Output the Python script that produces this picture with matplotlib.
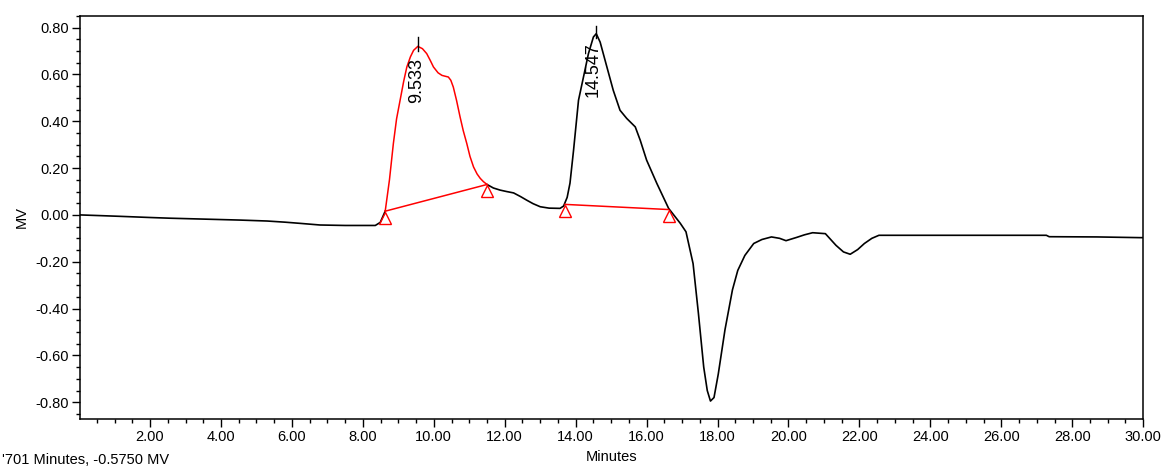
import matplotlib
matplotlib.use("Agg")
import matplotlib.pyplot as plt
import matplotlib.transforms as mtransforms
from matplotlib.ticker import MultipleLocator, FormatStrFormatter

plt.rcParams["font.family"] = ["Liberation Sans", "DejaVu Sans"]
plt.rcParams["axes.unicode_minus"] = False

# Detector trace (minutes, MV)
time_min = [0.03, 0.6, 1.15, 2.0, 2.56, 3.55, 4.54, 5.3, 5.81, 6.23, 6.79, 7.5,
            8.35, 8.49, 8.63, 8.75, 8.86, 8.95, 9.05, 9.15, 9.24, 9.34, 9.43,
            9.55, 9.68, 9.80, 9.90, 9.99, 10.12, 10.23, 10.33, 10.41, 10.48,
            10.55, 10.64, 10.74, 10.83, 10.93, 11.02, 11.12, 11.22, 11.31,
            11.40, 11.50, 11.68, 11.87, 12.05, 12.25, 12.45, 12.62, 12.80,
            13.0, 13.25, 13.56, 13.66, 13.76, 13.84, 13.94, 14.08, 14.22,
            14.36, 14.50, 14.58, 14.69, 14.88, 15.06, 15.25, 15.44, 15.68,
            15.82, 16.0, 16.29, 16.62, 16.95, 17.11, 17.31, 17.46, 17.61,
            17.71, 17.80, 17.90, 18.02, 18.21, 18.42, 18.57, 18.77, 19.02,
            19.25, 19.52, 19.75, 19.93, 20.23, 20.45, 20.68, 21.04, 21.34,
            21.55, 21.74, 21.95, 22.14, 22.35, 22.55, 25.0, 27.27, 27.35,
            28.7, 29.9, 30.0]
signal_mv = [0.000, -0.003, -0.006, -0.011, -0.014, -0.018, -0.022, -0.026,
             -0.031, -0.036, -0.043, -0.045, -0.045, -0.032, 0.016, 0.15,
             0.305, 0.41, 0.49, 0.57, 0.632, 0.675, 0.703, 0.72, 0.71, 0.689,
             0.66, 0.632, 0.607, 0.596, 0.592, 0.589, 0.575, 0.546, 0.49,
             0.419, 0.36, 0.305, 0.25, 0.205, 0.175, 0.156, 0.142, 0.130,
             0.115, 0.106, 0.100, 0.094, 0.078, 0.063, 0.048, 0.035, 0.029,
             0.028, 0.038, 0.075, 0.136, 0.276, 0.49, 0.589, 0.689, 0.76,
             0.774, 0.738, 0.632, 0.532, 0.447, 0.412, 0.376, 0.319, 0.234,
             0.134, 0.028, -0.036, -0.072, -0.208, -0.42, -0.65, -0.75,
             -0.795, -0.78, -0.68, -0.49, -0.32, -0.237, -0.173, -0.122,
             -0.105, -0.094, -0.100, -0.110, -0.096, -0.085, -0.076, -0.080,
             -0.13, -0.158, -0.168, -0.148, -0.122, -0.100, -0.087, -0.087,
             -0.087, -0.093, -0.094, -0.097, -0.097]

# Integration baselines (start/end points)
base1_t = [8.63, 11.50]
base1_y = [0.016, 0.130]
base2_t = [13.70, 16.62]
base2_y = [0.045, 0.023]

# Peak annotations
peak_t = [9.55, 14.58]
peak_y = [0.72, 0.774]
peak_labels = ["9.533", "14.547"]

x_ticks = [2, 4, 6, 8, 10, 12, 14, 16, 18, 20, 22, 24, 26, 28, 30]

fig = plt.figure(figsize=(11.62, 4.68), dpi=100)
ax = fig.add_axes([0.069, 0.105, 0.9148, 0.861])

pairs = list(zip(time_min, signal_mv))
pre = [p for p in pairs if p[0] <= base1_t[0]]
peak1 = [p for p in pairs if base1_t[0] <= p[0] <= base1_t[1]]
post = [p for p in pairs if p[0] >= base1_t[1]]
for part in (pre, post):
    ax.plot([p[0] for p in part], [p[1] for p in part], color="black", lw=1.2)
ax.plot([p[0] for p in peak1], [p[1] for p in peak1], color="red", lw=1.1)

# baselines with triangle markers hanging below the end points
tri = ax.transData + mtransforms.ScaledTranslation(0, -5 / 72, fig.dpi_scale_trans)
for bt, by in [(base1_t, base1_y), (base2_t, base2_y)]:
    ax.plot(bt, by, color="red", lw=1.1)
    ax.plot(bt, by, ls="none", marker="^", ms=9, mfc="none", mec="red",
            mew=1.0, transform=tri)

# retention-time ticks and labels
ax.plot([peak_t[0]] * 2, [peak_y[0] - 0.02, peak_y[0] + 0.04], color="black", lw=1.0)
ax.plot([peak_t[1]] * 2, [peak_y[1] - 0.02, peak_y[1] + 0.035], color="black", lw=1.0)
ax.text(peak_t[0] - 0.03, 0.477, peak_labels[0], rotation=90, ha="center",
        va="bottom", fontsize=13)
ax.text(peak_t[1] - 0.08, 0.505, peak_labels[1], rotation=90, ha="center",
        va="bottom", fontsize=13)

ax.set_xticks(x_ticks)
ax.xaxis.set_minor_locator(MultipleLocator(0.5))
ax.yaxis.set_major_locator(MultipleLocator(0.2))
ax.yaxis.set_minor_locator(MultipleLocator(0.05))
ax.xaxis.set_major_formatter(FormatStrFormatter("%.2f"))
ax.yaxis.set_major_formatter(FormatStrFormatter("%.2f"))
ax.set_xlim(0.03, 30)
ax.set_ylim(-0.871, 0.85)
ax.tick_params(which="major", direction="out", length=6, width=1, labelsize=10.5, pad=2)
ax.tick_params(which="minor", direction="out", length=3, width=1)
for sp in ax.spines.values():
    sp.set_linewidth(1.1)

ax.set_xlabel("Minutes", fontsize=10.5, labelpad=4)
ax.set_ylabel("MV", fontsize=10.5, labelpad=5)
fig.text(0.002, 0.018, "'701 Minutes, -0.5750 MV", fontsize=10.5, va="center", ha="left")

fig.savefig("out.png", dpi=100)
